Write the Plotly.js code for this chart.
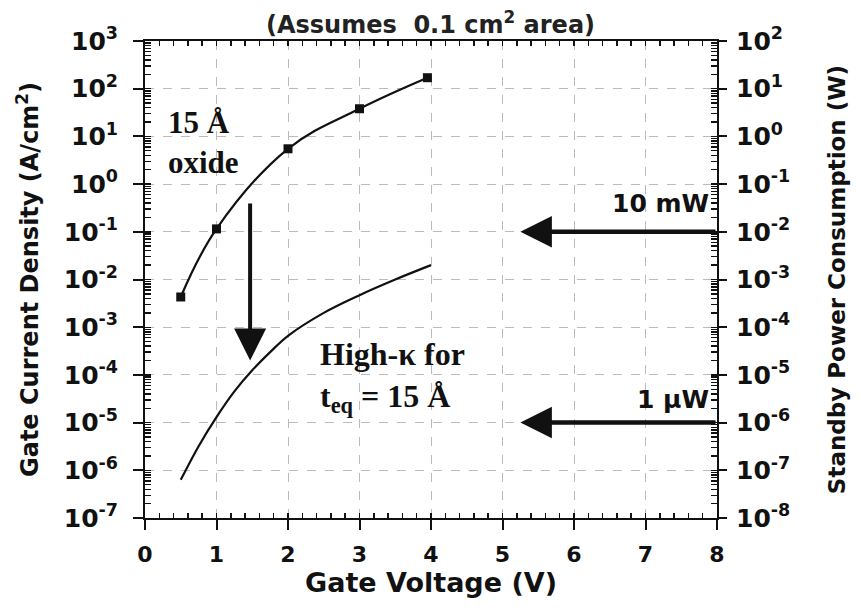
<!DOCTYPE html>
<html>
<head>
<meta charset="utf-8">
<script src="https://cdn.plot.ly/plotly-3.0.1.min.js"></script>
<style>html,body{margin:0;padding:0;background:#fff;}#chart{width:861px;height:608px;}</style>
</head>
<body>
<div id="chart"></div>
<script>
// ---- Data ----
const oxideVoltage = [0.5, 1, 2, 3, 3.95];
const oxideCurrent = [4.3e-3, 0.115, 5.5, 38, 170];

const highKVoltage = [0.5, 0.75, 1, 1.25, 1.5, 1.75, 2, 2.5, 3, 3.5, 4];
const highKCurrent = [6.3e-7, 3.2e-6, 1.3e-5, 4.5e-5, 1.25e-4, 3.0e-4, 6.6e-4, 2.0e-3, 4.7e-3, 1.0e-2, 2.0e-2];

const xTickVals = [0, 1, 2, 3, 4, 5, 6, 7, 8];

const leftTickVals = [1e-7, 1e-6, 1e-5, 1e-4, 1e-3, 1e-2, 1e-1, 1e0, 1e1, 1e2, 1e3];
const leftTickText = ['10<sup>-7</sup>', '10<sup>-6</sup>', '10<sup>-5</sup>', '10<sup>-4</sup>', '10<sup>-3</sup>',
  '10<sup>-2</sup>', '10<sup>-1</sup>', '10<sup>0</sup>', '10<sup>1</sup>', '10<sup>2</sup>', '10<sup>3</sup>'];

const rightTickVals = [1e-8, 1e-7, 1e-6, 1e-5, 1e-4, 1e-3, 1e-2, 1e-1, 1e0, 1e1, 1e2];
const rightTickText = ['10<sup>-8</sup>', '10<sup>-7</sup>', '10<sup>-6</sup>', '10<sup>-5</sup>', '10<sup>-4</sup>',
  '10<sup>-3</sup>', '10<sup>-2</sup>', '10<sup>-1</sup>', '10<sup>0</sup>', '10<sup>1</sup>', '10<sup>2</sup>'];

// power limits (W, right axis) and their arrow span in gate voltage
const powerLimits = [1e-2, 1e-6];
const powerLabels = ['10 mW', '1 µW'];
const powerArrowFrom = 8;
const powerArrowTo = 5.25;

// scaling arrow (15 Å oxide -> high-k)
const scaleArrowV = 1.47;
const scaleArrowFrom = 0.42;
const scaleArrowTo = 2e-4;

// ---- styling ----
const SANS = 'DejaVu Sans, Arial, sans-serif';
const SERIF = 'Liberation Serif, Times New Roman, serif';
const INK = '#111';
const log10 = v => Math.log10(v);

// inner tick positions (1..9 within each decade)
function minorTicks(lo, hi) {
  const out = [];
  for (let e = lo; e < hi; e++) for (let m = 1; m <= 9; m++) out.push(m * Math.pow(10, e));
  out.push(Math.pow(10, hi));
  return out;
}

const traces = [
  // invisible traces that activate the secondary / minor-tick axes
  {x: [0], y: [1e-3], xaxis: 'x2', yaxis: 'y3', type: 'scatter', mode: 'markers', marker: {opacity: 0}, showlegend: false, hoverinfo: 'skip'},
  {x: [0], y: [1e-3], xaxis: 'x3', yaxis: 'y4', type: 'scatter', mode: 'markers', marker: {opacity: 0}, showlegend: false, hoverinfo: 'skip'},
  {x: [0], y: [1e-3], yaxis: 'y2', type: 'scatter', mode: 'markers', marker: {opacity: 0}, showlegend: false, hoverinfo: 'skip'},
  {
    x: highKVoltage, y: highKCurrent, type: 'scatter', mode: 'lines',
    line: {color: INK, width: 2.2, shape: 'spline', smoothing: 1.0},
    showlegend: false, hoverinfo: 'skip'
  },
  {
    x: oxideVoltage, y: oxideCurrent, type: 'scatter', mode: 'lines+markers',
    line: {color: INK, width: 2.2, shape: 'spline', smoothing: 1.1},
    marker: {symbol: 'square', size: 9, color: INK},
    showlegend: false, hoverinfo: 'skip'
  }
];

const labelOffsets = [0.59, 0.48];
const annotations = [];
powerLimits.forEach((p, i) => {
  const yLeft = log10(p / 0.1); // right axis is one decade below the left axis
  annotations.push({
    x: powerArrowTo, y: yLeft, xref: 'x', yref: 'y',
    ax: powerArrowFrom, ay: yLeft, axref: 'x', ayref: 'y',
    showarrow: true, arrowhead: 2, arrowsize: 1.4, arrowwidth: 4.5, arrowcolor: INK, text: ''
  });
  annotations.push({
    x: 7.92, y: yLeft + labelOffsets[i], xref: 'x', yref: 'y', xanchor: 'right', yanchor: 'middle',
    text: '<b>' + powerLabels[i] + '</b>', showarrow: false,
    font: {family: SANS, size: 25, color: INK}
  });
});

annotations.push({
  x: scaleArrowV, y: log10(scaleArrowTo), xref: 'x', yref: 'y',
  ax: scaleArrowV, ay: log10(scaleArrowFrom), axref: 'x', ayref: 'y',
  showarrow: true, arrowhead: 2, arrowsize: 1.6, arrowwidth: 4, arrowcolor: INK, text: ''
});

annotations.push({
  x: 0.3, y: 0.88, xref: 'x', yref: 'y', xanchor: 'left', yanchor: 'middle', align: 'left',
  text: '<b>15 Å<br>oxide</b>', showarrow: false,
  font: {family: SERIF, size: 31, color: INK}
});
annotations.push({
  x: 2.42, y: -4.05, xref: 'x', yref: 'y', xanchor: 'left', yanchor: 'middle', align: 'left',
  text: '<b>High-κ for<br>t<sub>eq</sub> = 15 Å</b>', showarrow: false,
  font: {family: SERIF, size: 32, color: INK}
});

const layout = {
  width: 861, height: 608,
  paper_bgcolor: '#fff', plot_bgcolor: '#fff',
  margin: {l: 145, r: 144, t: 41, b: 90},
  title: {
    text: '<b>(Assumes  0.1 cm<sup>2</sup> area)</b>',
    font: {family: SANS, size: 24, color: '#222'},
    x: 0.5, xref: 'container', xanchor: 'center',
    y: 1 - 25 / 608, yref: 'container', yanchor: 'middle'
  },
  xaxis: {
    range: [0, 8], tickmode: 'array', tickvals: xTickVals,
    ticks: 'outside', ticklen: 10, tickwidth: 2, tickcolor: INK,
    showline: true, linewidth: 2, linecolor: INK, mirror: true,
    showgrid: true, gridcolor: '#bbb', gridwidth: 1, griddash: 'dash',
    zeroline: false,
    tickfont: {family: SANS, size: 22, color: INK, weight: 'bold'},
    ticklabelstandoff: 6,
    title: {text: '<b>Gate Voltage (V)</b>', font: {family: SANS, size: 27, color: INK}, standoff: 2}
  },
  // inner (minor) ticks, bottom and top
  xaxis2: {
    overlaying: 'x', anchor: 'y3', side: 'bottom', range: [0, 8],
    dtick: 0.2, ticks: 'inside', ticklen: 5, tickcolor: INK, tickwidth: 1.5,
    showticklabels: false, showgrid: false, zeroline: false
  },
  xaxis3: {
    overlaying: 'x', anchor: 'y4', side: 'top', range: [0, 8],
    dtick: 0.2, ticks: 'inside', ticklen: 5, tickcolor: INK, tickwidth: 1.5,
    showticklabels: false, showgrid: false, zeroline: false
  },
  yaxis: {
    type: 'log', range: [-7, 3],
    tickmode: 'array', tickvals: leftTickVals, ticktext: leftTickText,
    ticks: 'outside', ticklen: 10, tickwidth: 2, tickcolor: INK,
    showline: true, linewidth: 2, linecolor: INK,
    showgrid: true, gridcolor: '#bbb', gridwidth: 1, griddash: 'dash',
    zeroline: false,
    tickfont: {family: SANS, size: 25, color: INK, weight: 'bold'},
    ticklabelstandoff: 10,
    title: {text: '<b>Gate Current Density (A/cm<sup>2</sup>)</b>', font: {family: SANS, size: 24, color: INK}, standoff: 18}
  },
  yaxis2: {
    type: 'log', range: [-8, 2], overlaying: 'y', side: 'right',
    tickmode: 'array', tickvals: rightTickVals, ticktext: rightTickText,
    ticks: 'outside', ticklen: 8, tickwidth: 2, tickcolor: INK,
    showline: true, linewidth: 2, linecolor: INK,
    showgrid: false, zeroline: false,
    tickfont: {family: SANS, size: 25, color: INK, weight: 'bold'},
    ticklabelstandoff: 4,
    title: {text: '<b>Standby Power Consumption (W)</b>', font: {family: SANS, size: 23, color: INK}, standoff: 40}
  },
  // inner (minor) ticks, left and right
  yaxis3: {
    overlaying: 'y', anchor: 'x2', side: 'left', type: 'log', range: [-7, 3],
    tickmode: 'array', tickvals: minorTicks(-7, 3), ticks: 'inside', ticklen: 6, tickcolor: INK, tickwidth: 1.4,
    showticklabels: false, showgrid: false, zeroline: false
  },
  yaxis4: {
    overlaying: 'y', anchor: 'x3', side: 'right', type: 'log', range: [-8, 2],
    tickmode: 'array', tickvals: minorTicks(-8, 2), ticks: 'inside', ticklen: 6, tickcolor: INK, tickwidth: 1.4,
    showticklabels: false, showgrid: false, zeroline: false
  },
  annotations: annotations,
  showlegend: false
};

Plotly.newPlot('chart', traces, layout, {displayModeBar: false, staticPlot: true});
</script>
</body>
</html>
